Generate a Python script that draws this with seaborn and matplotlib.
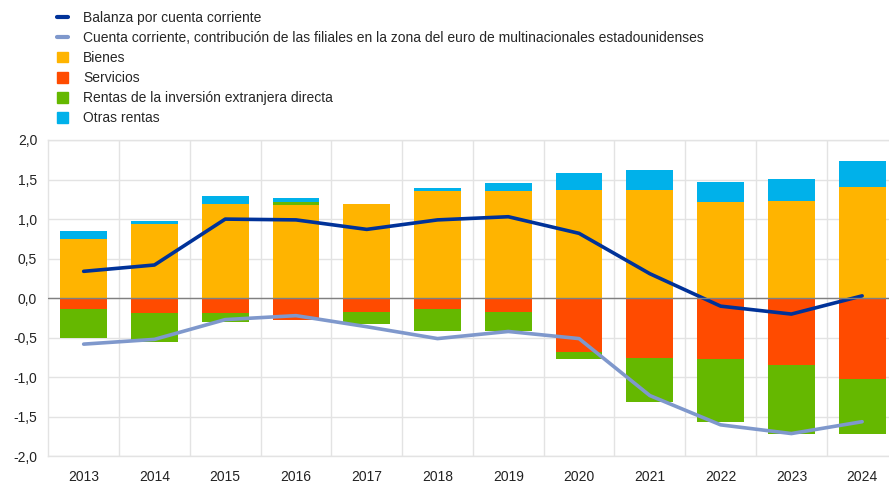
import numpy as np
import pandas as pd
import matplotlib
matplotlib.use("Agg")
import matplotlib.pyplot as plt
from matplotlib.lines import Line2D
from matplotlib.patches import Patch
import seaborn as sns

# Data (percentage of GDP)
years = ["2013", "2014", "2015", "2016", "2017", "2018",
         "2019", "2020", "2021", "2022", "2023", "2024"]
bienes = [0.75, 0.94, 1.19, 1.18, 1.19, 1.35, 1.36, 1.37, 1.37, 1.21, 1.23, 1.41]
servicios = [-0.13, -0.19, -0.19, -0.28, -0.18, -0.14, -0.17, -0.68, -0.75, -0.77, -0.85, -1.02]
rentas_ied = [-0.37, -0.36, -0.11, 0.04, -0.14, -0.27, -0.25, -0.09, -0.56, -0.80, -0.86, -0.70]
otras_rentas = [0.10, 0.04, 0.10, 0.05, 0.00, 0.04, 0.09, 0.21, 0.25, 0.26, 0.28, 0.33]
balanza = [0.34, 0.42, 1.00, 0.99, 0.87, 0.99, 1.03, 0.82, 0.31, -0.10, -0.20, 0.03]
filiales = [-0.58, -0.52, -0.27, -0.22, -0.36, -0.51, -0.42, -0.51, -1.23, -1.60, -1.71, -1.56]

labels = [
    "Balanza por cuenta corriente",
    "Cuenta corriente, contribución de las filiales en la zona del euro de multinacionales estadounidenses",
    "Bienes",
    "Servicios",
    "Rentas de la inversión extranjera directa",
    "Otras rentas",
]
c_dark, c_light = "#003299", "#7F98CC"
c_bienes, c_serv, c_ied, c_otras = "#FFB400", "#FF4B00", "#65B800", "#00B1EA"

sns.set_theme(style="white")
plt.rcParams["font.family"] = ["Liberation Sans", "DejaVu Sans"]

fig = plt.figure(figsize=(8.89, 4.86), dpi=100)
ax = fig.add_axes([0.0543, 0.0607, 0.9553, 0.6513])

ied = np.array(rentas_ied)
ied_pos = np.clip(ied, 0, None)
ied_neg = np.clip(ied, None, 0)
b = np.array(bienes)
s = np.array(servicios)

bw = 0.66
kw = dict(width=bw, linewidth=0, saturation=1, ax=ax)
sns.barplot(x=years, y=bienes, color=c_bienes, **kw)
sns.barplot(x=years, y=ied_pos, bottom=b, color=c_ied, **kw)
sns.barplot(x=years, y=otras_rentas, bottom=b + ied_pos, color=c_otras, **kw)
sns.barplot(x=years, y=servicios, color=c_serv, **kw)
sns.barplot(x=years, y=ied_neg, bottom=s, color=c_ied, **kw)

xs = np.arange(len(years))
sns.lineplot(x=xs, y=filiales, color=c_light, linewidth=2.6, ax=ax,
             solid_capstyle="round", solid_joinstyle="round")
sns.lineplot(x=xs, y=balanza, color=c_dark, linewidth=2.6, ax=ax,
             solid_capstyle="round", solid_joinstyle="round")

ax.axhline(0, color="#808080", linewidth=1.0, zorder=3)

ax.set_xlim(-0.5, len(years) - 0.5)
ax.set_ylim(-2.0, 2.0)
yt = np.arange(-2.0, 2.01, 0.5)
ax.set_yticks(yt)
ax.set_yticklabels([f"{v:.1f}".replace(".", ",") for v in yt])
ax.set_xticks(xs)
ax.set_xticklabels(years)
ax.set_xticks(xs[:-1] + 0.5, minor=True)
ax.grid(axis="y", which="major", color="#e3e3e3", linewidth=1.0)
ax.grid(axis="x", which="minor", color="#e3e3e3", linewidth=1.0)
ax.grid(axis="x", which="major", visible=False)
ax.set_axisbelow(True)
ax.tick_params(axis="both", which="both", length=0, labelsize=10, colors="#222222")
ax.tick_params(axis="y", pad=8)
ax.tick_params(axis="x", pad=10)
for sp in ax.spines.values():
    sp.set_color("#e3e3e3")
    sp.set_linewidth(1.0)
ax.set_xlabel("")
ax.set_ylabel("")

handles = [
    Line2D([], [], color=c_dark, linewidth=3),
    Line2D([], [], color=c_light, linewidth=3),
    Patch(color=c_bienes),
    Patch(color=c_serv),
    Patch(color=c_ied),
    Patch(color=c_otras),
]
fig.legend(handles, labels, loc="upper left", bbox_to_anchor=(0.064, 0.978),
           frameon=False, fontsize=10, handlelength=0.8, handleheight=0.8,
           handletextpad=1.1, labelspacing=0.44, borderpad=0, borderaxespad=0)

fig.savefig("out.png", dpi=100)
